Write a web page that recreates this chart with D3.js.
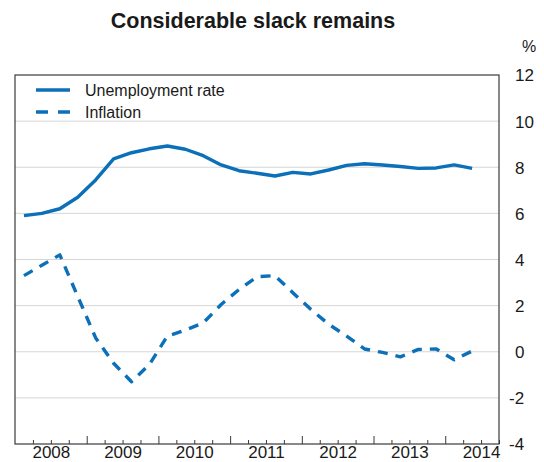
<!DOCTYPE html>
<html>
<head>
<meta charset="utf-8">
<script src="https://cdn.jsdelivr.net/npm/d3@7"></script>
<style>
  body { margin: 0; background: #fff; }
  svg { display: block; font-family: "Liberation Sans", Arial, Helvetica, sans-serif; }
</style>
</head>
<body>
<svg id="chart" width="544" height="462"></svg>
<script>
// ---- data (quarterly, 2008Q1 to 2014Q2) ----
const years = [2008, 2009, 2010, 2011, 2012, 2013, 2014];
const quarters = [
  "2008Q1","2008Q2","2008Q3","2008Q4",
  "2009Q1","2009Q2","2009Q3","2009Q4",
  "2010Q1","2010Q2","2010Q3","2010Q4",
  "2011Q1","2011Q2","2011Q3","2011Q4",
  "2012Q1","2012Q2","2012Q3","2012Q4",
  "2013Q1","2013Q2","2013Q3","2013Q4",
  "2014Q1","2014Q2"
];
const unemployment = [
  5.9, 6.0, 6.2, 6.7,
  7.45, 8.36, 8.63, 8.8,
  8.92, 8.78, 8.5, 8.1,
  7.85, 7.74, 7.62, 7.78,
  7.71, 7.88, 8.08, 8.15,
  8.1, 8.03, 7.95, 7.97,
  8.1, 7.95
];
const inflation = [
  3.3, 3.75, 4.2, 2.4,
  0.6, -0.5, -1.3, -0.55,
  0.68, 0.94, 1.25, 2.05,
  2.7, 3.25, 3.3, 2.56,
  1.84, 1.19, 0.68, 0.12,
  -0.03, -0.22, 0.1, 0.12,
  -0.35, 0.03
];
const yTicks = [-4, -2, 0, 2, 4, 6, 8, 10, 12];
const seriesNames = ["Unemployment rate", "Inflation"];
const titleText = "Considerable slack remains";
const unitLabel = "%";

// ---- layout ----
const svg = d3.select("#chart");
const L = 15, R = 499, T = 75, B = 444;
const colour = "#0b70b8";
const frameColour = "#3a3a3a";
const textColour = "#1a1a1a";

const qToX = q => +q.slice(0, 4) + (+q.slice(5) - 0.5) / 4;

const x = d3.scaleLinear().domain([2008, 2014.75]).range([L, R]);
const y = d3.scaleLinear().domain([-4, 12]).range([B, T]);

// title
svg.append("text")
  .attr("x", 253).attr("y", 28)
  .attr("text-anchor", "middle")
  .attr("font-weight", "bold")
  .attr("font-size", 21.5)
  .attr("fill", textColour)
  .text(titleText);

// gridlines
svg.append("g")
  .selectAll("line")
  .data(yTicks.filter(v => v > -4 && v < 12))
  .join("line")
  .attr("x1", L).attr("x2", R)
  .attr("y1", d => y(d)).attr("y2", d => y(d))
  .attr("stroke", "#d6d6d6")
  .attr("stroke-width", 1);

// right axis labels
const yAxis = d3.axisRight(y).tickValues(yTicks).tickSize(0).tickPadding(0)
  .tickFormat(d => d < 0 ? "-" + Math.abs(d) : d);
const gy = svg.append("g").attr("transform", `translate(${R},0)`).call(yAxis);
gy.select(".domain").remove();
gy.selectAll("text")
  .attr("x", d => d < 0 ? 10 : 16)
  .attr("dy", "0.35em")
  .attr("text-anchor", "start")
  .attr("font-size", 17)
  .attr("font-family", "Liberation Sans, Arial, sans-serif")
  .attr("fill", textColour);

svg.append("text")
  .attr("x", 522).attr("y", 52)
  .attr("font-size", 16)
  .attr("fill", textColour)
  .text(unitLabel);

// bottom axis: quarter ticks (minor) and year ticks (major) pointing up
const quarterTicks = d3.range(2008, 2014.75 + 1e-9, 0.25);
const xAxisMinor = d3.axisBottom(x).tickValues(quarterTicks.filter(v => Math.abs(v - Math.round(v)) > 1e-6))
  .tickSize(-4).tickFormat("");
const xAxisMajor = d3.axisBottom(x).tickValues(years.slice(1)).tickSize(-8).tickFormat("");
const gxm = svg.append("g").attr("transform", `translate(0,${B})`).call(xAxisMinor);
const gxM = svg.append("g").attr("transform", `translate(0,${B})`).call(xAxisMajor);
[gxm, gxM].forEach(g => {
  g.select(".domain").remove();
  g.selectAll("line").attr("stroke", frameColour).attr("stroke-width", 1);
});

// year labels centred in each year
const xAxisLabels = d3.axisBottom(x).tickValues(years.map(v => v + 0.5)).tickSize(0).tickPadding(0)
  .tickFormat(d => Math.floor(d));
const gxl = svg.append("g").attr("transform", `translate(0,${B})`).call(xAxisLabels);
gxl.select(".domain").remove();
gxl.selectAll("text")
  .attr("y", 14)
  .attr("dy", "0")
  .attr("font-size", 17)
  .attr("font-family", "Liberation Sans, Arial, sans-serif")
  .attr("fill", textColour);

// frame
svg.append("rect")
  .attr("x", L).attr("y", T)
  .attr("width", R - L).attr("height", B - T)
  .attr("fill", "none")
  .attr("stroke", frameColour)
  .attr("stroke-width", 1.2);

// lines
const line = d3.line().x(d => x(qToX(d.q))).y(d => y(d.v));
const uData = quarters.map((q, i) => ({ q, v: unemployment[i] }));
const iData = quarters.map((q, i) => ({ q, v: inflation[i] }));

svg.append("path").datum(uData)
  .attr("d", line)
  .attr("fill", "none")
  .attr("stroke", colour)
  .attr("stroke-width", 3.4)
  .attr("stroke-linejoin", "round");

svg.append("path").datum(iData)
  .attr("d", line)
  .attr("fill", "none")
  .attr("stroke", colour)
  .attr("stroke-width", 3.4)
  .attr("stroke-linejoin", "round")
  .attr("stroke-dasharray", "10,8");

// legend
const legend = svg.append("g");
const legY = [90, 112];
legend.selectAll("line")
  .data(seriesNames)
  .join("line")
  .attr("x1", 36).attr("x2", 70)
  .attr("y1", (d, i) => legY[i]).attr("y2", (d, i) => legY[i])
  .attr("stroke", colour)
  .attr("stroke-width", 3.4)
  .attr("stroke-dasharray", (d, i) => i === 1 ? "12,10" : null);
legend.selectAll("text")
  .data(seriesNames)
  .join("text")
  .attr("x", 85)
  .attr("y", (d, i) => legY[i])
  .attr("dy", "0.35em")
  .attr("font-size", 16)
  .attr("fill", textColour)
  .text(d => d);
</script>
</body>
</html>
